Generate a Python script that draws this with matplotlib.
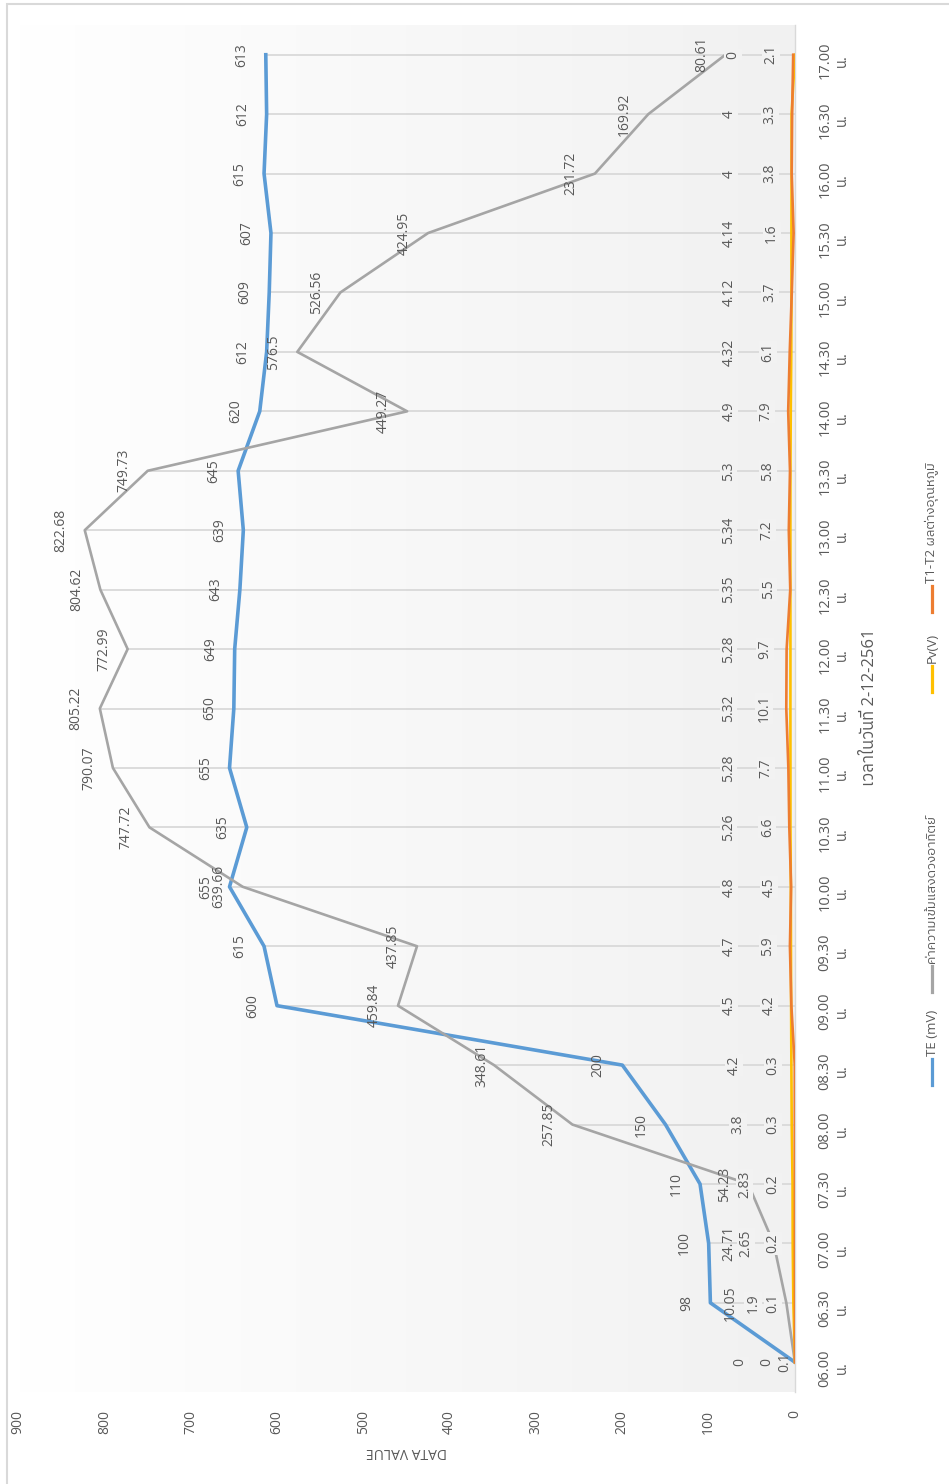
import numpy as np
import matplotlib
matplotlib.use("Agg")
import matplotlib.pyplot as plt
from matplotlib import font_manager as fm
from matplotlib.ft2font import FT2Font
from matplotlib.lines import Line2D
from matplotlib.patches import Rectangle

# data (2-12-2561)
times = ['06.00', '06.30', '07.00', '07.30', '08.00', '08.30', '09.00', '09.30',
         '10.00', '10.30', '11.00', '11.30', '12.00', '12.30', '13.00', '13.30',
         '14.00', '14.30', '15.00', '15.30', '16.00', '16.30', '17.00']
te_mv = [0, 98, 100, 110, 150, 200, 600, 615, 655, 635, 655, 650,
         649, 643, 639, 645, 620, 612, 609, 607, 615, 612, 613]
sun = [0.1, 10.05, 24.71, 54.23, 257.85, 348.61, 459.84, 437.85, 639.66, 747.72, 790.07, 805.22,
       772.99, 804.62, 822.68, 749.73, 449.27, 576.5, 526.56, 424.95, 231.72, 169.92, 80.61]
pv_v = [0, 1.9, 2.65, 2.83, 3.8, 4.2, 4.5, 4.7, 4.8, 5.26, 5.28, 5.32,
        5.28, 5.35, 5.34, 5.3, 4.9, 4.32, 4.12, 4.14, 4, 4, 0]
dt = [0, 0.1, 0.2, 0.2, 0.3, 0.3, 4.2, 5.9, 4.5, 6.6, 7.7, 10.1,
      9.7, 5.5, 7.2, 5.8, 7.9, 6.1, 3.7, 1.6, 3.8, 3.3, 2.1]

names = ['TE (mV)', 'ค่าความเข้มแสงดวงอาทิตย์', 'Pv(V)', 'T1-T2 ผลต่างอุณหภูมิ']
colors = ['#5B9BD5', '#A5A5A5', '#FFC000', '#ED7D31']
widths = [2.6, 1.9, 1.9, 1.9]

# find a font that has thai glyphs
thai = None
for f in fm.fontManager.ttflist:
    try:
        cm = FT2Font(f.fname).get_charmap()
    except Exception:
        continue
    if 0x0E27 in cm and 0x0E35 in cm:
        thai = f.name
        if 'Thai' in f.name:
            break
fams = ['Open Sans'] + ([thai] if thai else []) + ['DejaVu Sans']
plt.rcParams['font.family'] = fams
txt = '#595959'

W, H = 949, 1484
fig = plt.figure(figsize=(W / 100, H / 100), dpi=100)
ax = fig.add_axes([18 / W, 1 - 1392 / H, (795 - 18) / W, (1392 - 25) / H])

# plot area gradient, white on the left to light grey on the right
g = np.linspace(255, 241, 256) / 255
grad = np.dstack([g, g, g]).reshape(1, 256, 3)
ax.imshow(grad, extent=[0, 1, 0, 1], transform=ax.transAxes, aspect='auto',
          interpolation='bilinear', zorder=0)

y = np.arange(len(times))
series = [te_mv, sun, pv_v, dt]

# drop lines
top = np.max(np.array(series), axis=0)
ax.hlines(y, 0, top, color='#D9D9D9', lw=1.3, zorder=1)

for s, c, w, n in zip(series, colors, widths, names):
    ax.plot(s, y, color=c, lw=w, solid_joinstyle='round', zorder=3, label=n)

# data labels (pixel offsets to the left of each point)
base_off = [-24, -24, -62, -22]
special = {(0, 0): -28, (1, 0): -10, (2, 0): -55,
           (1, 1): -56, (2, 1): -40,
           (1, 2): -45, (2, 2): -47,
           (2, 3): -48, (2, 4): -54, (2, 5): -57, (1, 5): -12}
hidden = {(3, 0)}  # sits under the TE "0" label in the original
for k, s in enumerate(series):
    for i, v in enumerate(s):
        if (k, i) in hidden:
            continue
        off = special.get((k, i), base_off[k])
        bb = None
        if k >= 2:
            bb = dict(boxstyle='square,pad=0.1', fc='#F2F2F2', ec='none')
        ax.annotate('{:g}'.format(v), (v, i), xytext=(off, 0), textcoords='offset pixels',
                    rotation=90, ha='center', va='center', fontsize=10, color=txt,
                    zorder=4, bbox=bb)

ax.set_xlim(900, 0)
ax.set_ylim(-0.5, len(times) - 0.5)
ax.set_xticks(np.arange(0, 901, 100))
ax.set_xticklabels([str(v) for v in range(0, 901, 100)], rotation=90, fontsize=10, color=txt)
ax.set_yticks(y)
ax.set_yticklabels([t + '\nน.' for t in times], rotation=90, fontsize=10.5, color=txt,
                   multialignment='center')
ax.yaxis.tick_right()
ax.tick_params(axis='both', length=0)
ax.tick_params(axis='x', pad=13)
ax.tick_params(axis='y', pad=16)
for sp in ['top', 'left', 'bottom']:
    ax.spines[sp].set_visible(False)
ax.spines['right'].set_color('#D9D9D9')
ax.spines['right'].set_linewidth(1)

ax.set_xlabel('DATA VALUE', rotation=180, fontsize=10, color=txt, labelpad=7)
fig.text(870 / W, 1 - 707 / H, 'เวลาในวันที่ 2-12-2561', rotation=90, ha='center', va='center',
         fontsize=12, color=txt)

# legend drawn by hand, rotated with the chart
leg_x = 932 / W
leg_line_bottom = [1085, 992, 692, 612]
for c, n, lb in zip(colors, names, leg_line_bottom):
    fig.add_artist(Line2D([leg_x, leg_x], [1 - lb / H, 1 - (lb - 26) / H], color=c, lw=2.3))
    fig.text(leg_x, 1 - (lb - 29) / H, n, rotation=90, rotation_mode='anchor',
             ha='left', va='center', fontsize=9.5, color=txt)

# chart border
fig.add_artist(Rectangle((7 / W, -0.1), 1.1, 1 - 4 / H + 0.1, transform=fig.transFigure,
                         fill=False, ec='#D9D9D9', lw=1.5))

fig.savefig('out.png', dpi=100)
